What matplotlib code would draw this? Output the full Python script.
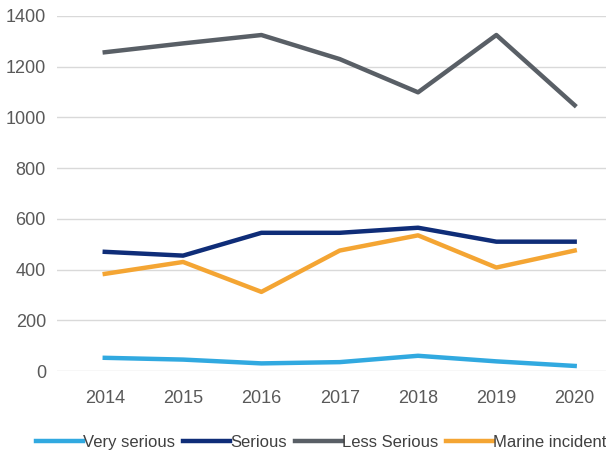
import matplotlib
matplotlib.use("Agg")
import matplotlib.pyplot as plt

years = [2014, 2015, 2016, 2017, 2018, 2019, 2020]
very_serious = [52, 45, 30, 35, 60, 38, 20]
serious = [470, 455, 545, 545, 565, 510, 510]
less_serious = [1257, 1292, 1325, 1230, 1099, 1325, 1048]
marine_incident = [383, 430, 312, 475, 535, 408, 475]
yticks = [0, 200, 400, 600, 800, 1000, 1200, 1400]

plt.rcParams['font.family'] = ['Liberation Sans', 'DejaVu Sans']

fig = plt.figure(figsize=(6.06, 4.59), dpi=100)
ax = fig.add_axes([57/606, 1 - 371/459, 1 - 57/606, (371 - 16)/459])

ax.plot(years, very_serious, color='#31a9e0', lw=3.2, label="Very serious")
ax.plot(years, serious, color='#0f2d78', lw=3.2, label="Serious")
ax.plot(years, less_serious, color='#595f66', lw=3.2, label="Less Serious")
ax.plot(years, marine_incident, color='#f4a533', lw=3.2, label="Marine incident")

ax.set_xlim(2013.39, 2020.40)
ax.set_ylim(0, 1400)
ax.set_yticks(yticks)
ax.set_xticks(years)
ax.grid(axis='y', color='#d9d9d9', lw=1)
ax.set_axisbelow(True)
for s in ['top', 'right', 'left', 'bottom']:
    ax.spines[s].set_visible(False)
ax.tick_params(length=0, labelsize=13, colors='#595959', pad=8)
ax.tick_params(axis='x', pad=14)

fig.legend(loc='lower center', bbox_to_anchor=(0.53, -0.012), ncol=4, frameon=False,
           handlelength=2.8, handletextpad=0.0, columnspacing=0.5,
           prop={'size': 12}, labelcolor='#404040')

fig.savefig("out.png")
